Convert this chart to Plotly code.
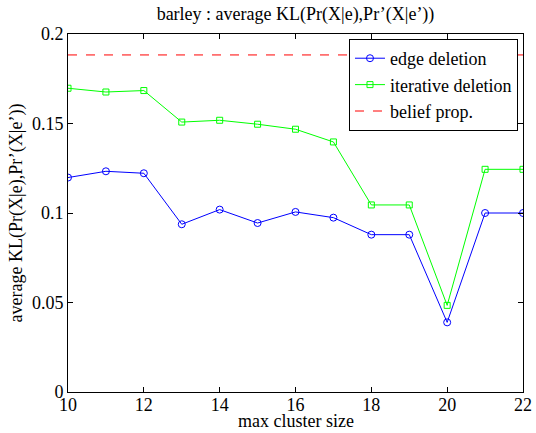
import plotly.graph_objects as go

cluster_size = [10, 11, 12, 13, 14, 15, 16, 17, 18, 19, 20, 21, 22]
edge_deletion = [0.1198, 0.1233, 0.1222, 0.0937, 0.1019, 0.0944, 0.1006, 0.0974, 0.0879, 0.0879, 0.0389, 0.1000, 0.1000]
iterative_deletion = [0.1697, 0.1676, 0.1684, 0.1508, 0.1518, 0.1496, 0.1468, 0.1397, 0.1045, 0.1045, 0.0484, 0.1244, 0.1244]
belief_prop = 0.1883
x_ticks = [10, 12, 14, 16, 18, 20, 22]
y_ticks = [0, 0.05, 0.1, 0.15, 0.2]
y_tick_labels = ["0", "0.05", "0.1", "0.15", "0.2"]

FONT = "Liberation Serif"

fig = go.Figure()
fig.add_trace(go.Scatter(
    x=cluster_size, y=edge_deletion, name="edge deletion", mode="lines+markers",
    line=dict(color="#0000ff", width=1),
    marker=dict(symbol="circle-open", size=7, color="#0000ff", line=dict(width=1)),
))
fig.add_trace(go.Scatter(
    x=cluster_size, y=iterative_deletion, name="iterative deletion", mode="lines+markers",
    line=dict(color="#00ff00", width=1),
    marker=dict(symbol="square-open", size=6, color="#00ff00", line=dict(width=1)),
))
fig.add_trace(go.Scatter(
    x=[cluster_size[0], cluster_size[-1]], y=[belief_prop, belief_prop], name="belief prop.",
    mode="lines", line=dict(color="#ff0000", width=1, dash="dash"),
))

fig.update_layout(
    width=536, height=433,
    margin=dict(l=68, r=13, t=34, b=41, autoexpand=False),
    paper_bgcolor="white", plot_bgcolor="white",
    font=dict(family=FONT, size=18, color="black"),
    title=dict(text="barley : average KL(Pr(X|e),Pr’(X|e’))", xref="paper", x=0.5, xanchor="center",
               y=1 - 14 / 433, yanchor="middle", font=dict(family=FONT, size=18, color="black")),
    showlegend=True,
    legend=dict(x=0.989, y=0.986, xanchor="right", yanchor="top",
                bgcolor="white", bordercolor="black", borderwidth=1,
                font=dict(family=FONT, size=18, color="black"), tracegroupgap=0, itemwidth=30),
    annotations=[dict(text="max cluster size", xref="paper", yref="paper", x=0.5, y=-0.081,
                      xanchor="center", yanchor="middle", showarrow=False,
                      font=dict(family=FONT, size=18, color="black"))],
)
fig.update_xaxes(
    range=[10, 22], tickvals=x_ticks, ticks="inside", ticklen=5, tickcolor="black",
    showline=True, linecolor="black", linewidth=1, mirror="ticks", showgrid=False, zeroline=False,
    automargin=False, tickfont=dict(family=FONT, size=18, color="black"), ticklabelstandoff=-4,
)
fig.update_yaxes(
    range=[0, 0.2], tickvals=y_ticks, ticktext=y_tick_labels, ticks="inside", ticklen=5, tickcolor="black",
    showline=True, linecolor="black", linewidth=1, mirror="ticks", showgrid=False, zeroline=False,
    automargin=False, tickfont=dict(family=FONT, size=18, color="black"),
    title=dict(text="average KL(Pr(X|e),Pr’(X|e’))", standoff=4, font=dict(family=FONT, size=18, color="black")),
)

fig.write_html("out.html", post_script="document.body.style.margin='0';",
               config={"displayModeBar": False})
